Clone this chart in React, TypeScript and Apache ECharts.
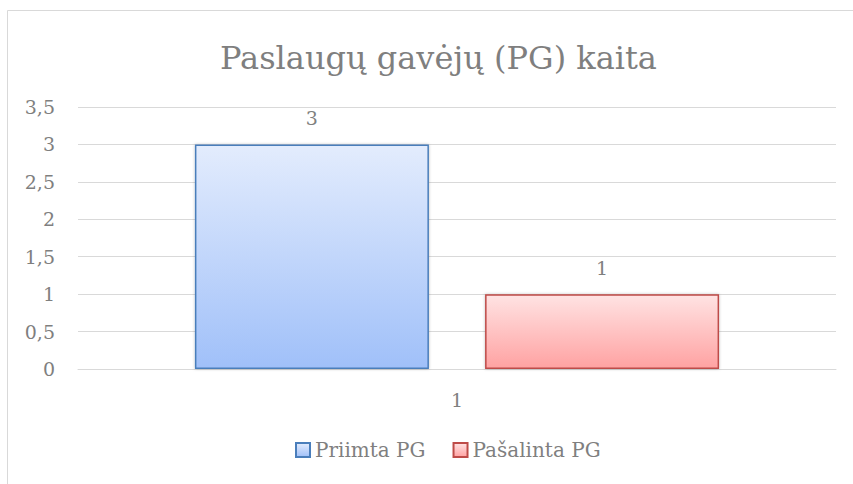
import React, { useEffect, useRef } from "react";
import * as echarts from "echarts";

const categories = ["1"];
const seriesNames = ["Priimta PG", "Pašalinta PG"];
const priimta = [3];
const pasalinta = [1];
const titleText = "Paslaugų gavėjų (PG) kaita";

const FONT = "DejaVu Serif";
const TXT = "#7f7f7f";

export default function App() {
  const ref = useRef<HTMLDivElement>(null);
  useEffect(() => {
    if (!ref.current) return;
    const chart = echarts.init(ref.current, undefined, { renderer: "svg" });
    const grad = (a: string, b: string) =>
      new echarts.graphic.LinearGradient(0, 0, 0, 1, [
        { offset: 0, color: a },
        { offset: 1, color: b },
      ]);
    chart.setOption({
      animation: false,
      backgroundColor: "#ffffff",
      textStyle: { fontFamily: FONT },
      graphic: [
        {
          type: "rect",
          shape: { x: 7.5, y: 10.5, width: 846, height: 500 },
          style: { fill: "none", stroke: "#d9d9d9", lineWidth: 1 },
          silent: true,
        },
      ],
      title: {
        text: titleText,
        left: 215,
        top: 37,
        textStyle: { fontFamily: FONT, fontSize: 32, fontWeight: "normal", color: TXT },
      },
      legend: {
        bottom: 19,
        left: 290,
        icon: "rect",
        itemWidth: 14,
        itemHeight: 14,
        itemGap: 27,
        textStyle: { fontFamily: FONT, fontSize: 20, color: TXT },
        data: seriesNames,
      },
      grid: { left: 78, right: 17, top: 107, bottom: 115 },
      xAxis: {
        type: "category",
        data: categories,
        axisLine: { show: true, lineStyle: { color: "#d9d9d9", width: 1 } },
        axisTick: { show: false },
        axisLabel: { fontFamily: FONT, fontSize: 19, color: TXT, margin: 21 },
      },
      yAxis: {
        type: "value",
        min: 0,
        max: 3.5,
        interval: 0.5,
        axisLine: { show: false },
        axisTick: { show: false },
        splitLine: { lineStyle: { color: "#d9d9d9", width: 1 } },
        axisLabel: {
          fontFamily: FONT,
          fontSize: 19,
          color: TXT,
          margin: 23,
          formatter: (v: number) => String(v).replace(".", ","),
        },
      },
      series: [
        {
          name: seriesNames[0],
          type: "bar",
          data: priimta,
          barWidth: 234,
          barGap: "24%",
          itemStyle: {
            color: grad("#e3ecfd", "#a0c0f9"),
            borderColor: "#4a7ebb",
            borderWidth: 1.5,
            shadowBlur: 3,
            shadowColor: "rgba(0,0,0,0.25)",
          },
          label: {
            show: true,
            position: "top",
            distance: 17,
            fontFamily: FONT,
            fontSize: 19,
            color: TXT,
          },
        },
        {
          name: seriesNames[1],
          type: "bar",
          data: pasalinta,
          barWidth: 234,
          barGap: "24%",
          itemStyle: {
            color: grad("#ffe3e3", "#ffa2a2"),
            borderColor: "#be4b48",
            borderWidth: 1.5,
            shadowBlur: 3,
            shadowColor: "rgba(0,0,0,0.25)",
          },
          label: {
            show: true,
            position: "top",
            distance: 17,
            fontFamily: FONT,
            fontSize: 19,
            color: TXT,
          },
        },
      ],
    });
    return () => chart.dispose();
  }, []);
  return (
    <div
      ref={ref}
      style={{ position: "fixed", left: 0, top: 0, width: 853, height: 484 }}
    />
  );
}
